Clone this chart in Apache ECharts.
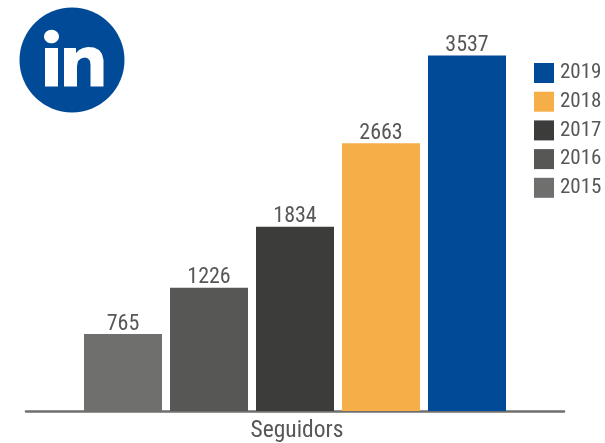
<!DOCTYPE html>
<html><head><meta charset="utf-8">
<style>html,body{margin:0;padding:0;background:#fff}#c{width:605px;height:443px}</style>
<script src="https://cdn.jsdelivr.net/npm/echarts@6/dist/echarts.min.js"></script>
</head><body><div id="c"></div>
<script>
const categories = ['Seguidors'];
const years = ['2015','2016','2017','2018','2019'];
const values = [765,1226,1834,2663,3537];
const colors = ['#6f6f6e','#575756','#3c3c3b','#f6ae48','#004a98'];
const legendOrder = ['2019','2018','2017','2016','2015'];
const font = '"Roboto Condensed",Roboto,sans-serif';
const chart = echarts.init(document.getElementById('c'),null,{renderer:'canvas'});
chart.setOption({
  animation:false,
  backgroundColor:'#fff',
  grid:{left:26,width:538,top:9,height:404,containLabel:false},
  legend:{data:legendOrder,orient:'vertical',left:529,top:57,itemWidth:20,itemHeight:20,itemGap:6.7,
    icon:'rect',selectedMode:false,textStyle:{color:'#575756',fontSize:21,lineHeight:22,fontFamily:font,padding:[0,0,0,1]}},
  xAxis:{type:'category',data:categories,axisTick:{show:false},
    axisLine:{lineStyle:{color:'#6f6f6e',width:2.5}},
    axisLabel:{color:'#575756',fontSize:23.500,fontFamily:font,margin:8,padding:[0,0,0,4]}},
  yAxis:{type:'value',min:0,max:4000,show:false,splitLine:{show:false}},
  series:years.map((y,i)=>({name:y,type:'bar',data:[values[i]],barWidth:78,barGap:'10.26%',
    itemStyle:{color:colors[i]},
    label:{show:true,position:'top',distance:-1,color:'#575756',fontSize:22,fontFamily:font}})),
  graphic:[
    {type:'circle',shape:{cx:72,cy:60,r:52.5},style:{fill:'#004a98'}},
    {type:'ellipse',shape:{cx:51.5,cy:36.5,rx:7.5,ry:6.8},style:{fill:'#fff'}},
    {type:'rect',shape:{x:45,y:48,width:13,height:38.5},style:{fill:'#fff'}},
    {type:'polygon',shape:{points:[[64,48],[76,48],[76,53],[79,50],[83,48],[88,47],[94,47.500],[99,50],[102,54],[103.500,60],[103.500,86.500],[90.500,86.500],[90.500,65],[90,61],[88,58.500],[85,57.500],[81,58.500],[78,61],[77,66],[77,86.500],[64,86.500]]},style:{fill:'#fff'}}
  ]
});
</script></body></html>
